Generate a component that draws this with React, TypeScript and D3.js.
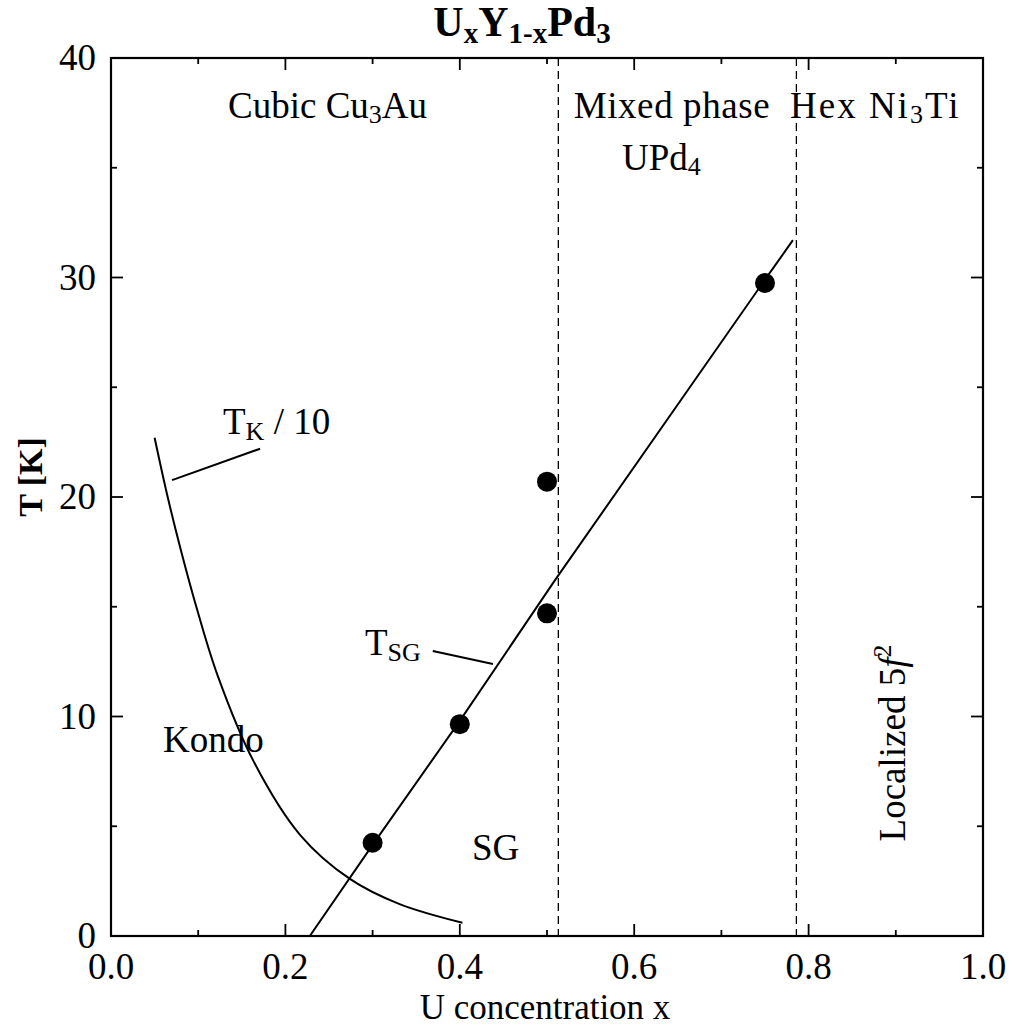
import React from "react";
import * as d3 from "d3";

// ---- data ----
const tsgX = [0.3, 0.4, 0.5, 0.5, 0.75];
const tsgT = [4.25, 9.65, 14.7, 20.7, 29.75];

const tsgLineX = [0.228, 0.3, 0.4, 0.509, 0.75, 0.782];
const tsgLineT = [0.0, 4.15, 9.8, 16.2, 29.9, 31.7];

const kondoX = [0.05, 0.065, 0.08, 0.1, 0.122, 0.163, 0.217, 0.274, 0.331, 0.403];
const kondoT = [22.7, 20.0, 17.6, 14.7, 11.9, 8.0, 4.6, 2.6, 1.45, 0.6];

const phaseBoundaries = [0.513, 0.786];

const xMajorTicks = [0, 0.2, 0.4, 0.6, 0.8, 1.0];
const xMinorTicks = [0.1, 0.3, 0.5, 0.7, 0.9];
const yMajorTicks = [0, 10, 20, 30, 40];
const yMinorTicks = [5, 15, 25, 35];

const W = 1013;
const H = 1028;
const FONT = "'Liberation Serif', 'Times New Roman', serif";

export default function App() {
  const x = d3.scaleLinear().domain([0, 1]).range([111, 983]);
  const y = d3.scaleLinear().domain([0, 40]).range([936, 58]);
  const [x0, x1] = x.range();
  const [y0, y1] = y.range();

  const line = d3
    .line<[number, number]>()
    .x((d) => x(d[0]))
    .y((d) => y(d[1]));
  const curve = d3
    .line<[number, number]>()
    .x((d) => x(d[0]))
    .y((d) => y(d[1]))
    .curve(d3.curveCatmullRom.alpha(0.5));

  const tsgLine = line(tsgLineX.map((v, i) => [v, tsgLineT[i]] as [number, number])) || "";
  const kondoLine = curve(kondoX.map((v, i) => [v, kondoT[i]] as [number, number])) || "";

  const fs = 37;
  const sub = 26;

  return (
    <svg
      width={W}
      height={H}
      style={{ position: "absolute", left: 0, top: 0, background: "#fff" }}
      fontFamily={FONT}
    >
      <rect x={0} y={0} width={W} height={H} fill="#fff" />

      {/* title */}
      <text x={522} y={36} textAnchor="middle" fontSize={42} fontWeight="bold" fill="#000">
        U<tspan fontSize={29} dy={7}>x</tspan>
        <tspan dy={-7}>Y</tspan>
        <tspan fontSize={29} dy={7}>1-x</tspan>
        <tspan dy={-7}>Pd</tspan>
        <tspan fontSize={29} dy={7}>3</tspan>
      </text>

      {/* phase boundaries */}
      {phaseBoundaries.map((b, i) => (
        <line
          key={i}
          x1={x(b)}
          x2={x(b)}
          y1={y1}
          y2={y0}
          stroke="#000"
          strokeWidth={1.3}
          strokeDasharray="8,5"
        />
      ))}

      {/* frame */}
      <rect x={x0} y={y1} width={x1 - x0} height={y0 - y1} fill="none" stroke="#000" strokeWidth={2.2} />

      {/* x ticks */}
      {xMajorTicks.map((t) => (
        <g key={"xM" + t}>
          <line x1={x(t)} x2={x(t)} y1={y0} y2={y0 - 12} stroke="#000" strokeWidth={1.8} />
          <line x1={x(t)} x2={x(t)} y1={y1} y2={y1 + 12} stroke="#000" strokeWidth={1.8} />
          <text x={x(t)} y={979} textAnchor="middle" fontSize={fs} fill="#000">
            {t.toFixed(1)}
          </text>
        </g>
      ))}
      {xMinorTicks.map((t) => (
        <g key={"xm" + t}>
          <line x1={x(t)} x2={x(t)} y1={y0} y2={y0 - 6} stroke="#000" strokeWidth={1.8} />
          <line x1={x(t)} x2={x(t)} y1={y1} y2={y1 + 6} stroke="#000" strokeWidth={1.8} />
        </g>
      ))}

      {/* y ticks */}
      {yMajorTicks.map((t) => (
        <g key={"yM" + t}>
          <line x1={x0} x2={x0 + 12} y1={y(t)} y2={y(t)} stroke="#000" strokeWidth={1.8} />
          <line x1={x1} x2={x1 - 12} y1={y(t)} y2={y(t)} stroke="#000" strokeWidth={1.8} />
          <text x={96} y={y(t) + 12} textAnchor="end" fontSize={fs} fill="#000">
            {t}
          </text>
        </g>
      ))}
      {yMinorTicks.map((t) => (
        <g key={"ym" + t}>
          <line x1={x0} x2={x0 + 6} y1={y(t)} y2={y(t)} stroke="#000" strokeWidth={1.8} />
          <line x1={x1} x2={x1 - 6} y1={y(t)} y2={y(t)} stroke="#000" strokeWidth={1.8} />
        </g>
      ))}

      {/* axis labels */}
      <text x={545} y={1019} textAnchor="middle" fontSize={35} fill="#000">
        U concentration x
      </text>
      <text
        transform={`translate(42,477) rotate(-90)`}
        textAnchor="middle"
        fontSize={34}
        fontWeight="bold"
        fill="#000"
      >
        T [K]
      </text>

      {/* curves */}
      <path d={kondoLine} fill="none" stroke="#000" strokeWidth={2} />
      <path d={tsgLine} fill="none" stroke="#000" strokeWidth={2} />

      {/* data points */}
      {tsgX.map((v, i) => (
        <circle key={i} cx={x(v)} cy={y(tsgT[i])} r={10} fill="#000" />
      ))}

      {/* pointer lines */}
      <line x1={x(0.07)} y1={y(20.77)} x2={x(0.171)} y2={y(22.2)} stroke="#000" strokeWidth={2} />
      <line x1={x(0.369)} y1={y(12.98)} x2={x(0.438)} y2={y(12.39)} stroke="#000" strokeWidth={2} />

      {/* region labels */}
      <text x={228} y={118} fontSize={fs} fill="#000">
        Cubic Cu<tspan fontSize={sub} dy={5}>3</tspan>
        <tspan dy={-5}>Au</tspan>
      </text>
      <text x={672} y={118} textAnchor="middle" fontSize={fs} fill="#000" letterSpacing={0.6}>
        Mixed phase
      </text>
      <text x={622} y={170} fontSize={fs} fill="#000">
        UPd<tspan fontSize={sub} dy={5}>4</tspan>
      </text>
      <text x={790} y={118} fontSize={fs} fill="#000" letterSpacing={2}>
        Hex Ni<tspan fontSize={sub} dy={5}>3</tspan>
        <tspan dy={-5}>Ti</tspan>
      </text>
      <text x={223} y={434} fontSize={fs} fill="#000">
        T<tspan fontSize={sub} dy={6}>K</tspan>
        <tspan dy={-6}> / 10</tspan>
      </text>
      <text x={365} y={655} fontSize={fs} fill="#000">
        T<tspan fontSize={sub} dy={6}>SG</tspan>
      </text>
      <text x={163} y={752} fontSize={fs} fill="#000">
        Kondo
      </text>
      <text x={472} y={860} fontSize={fs} fill="#000">
        SG
      </text>
      <text transform={`translate(905,743) rotate(-90)`} textAnchor="middle" fontSize={fs} fill="#000">
        Localized 5<tspan fontStyle="italic">f</tspan>
        <tspan fontSize={sub} dy={-14}>2</tspan>
      </text>
    </svg>
  );
}
